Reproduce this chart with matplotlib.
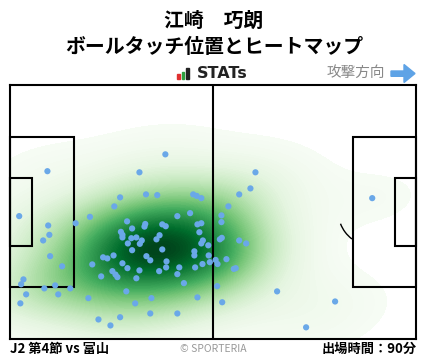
# Ball touch positions and heatmap for one player, drawn on a pitch.
import numpy as np
import matplotlib
matplotlib.use("Agg")
import matplotlib.pyplot as plt
import seaborn as sns
from matplotlib.patches import Rectangle, Arc, Polygon

plt.rcParams["font.family"] = ["Noto Sans CJK JP", "DejaVu Sans"]

# Texts
player_name = "江崎　巧朗"
chart_title = "ボールタッチ位置とヒートマップ"
direction_label = "攻撃方向"
match_label = "J2 第4節 vs 富山"
credit_label = "© SPORTERIA"
minutes_label = "出場時間：90分"

# Touch positions in metres (x along 105 m, y up from bottom touchline, 68 m)
touch_x = [40.1, 9.6, 33.4, 63.4, 62.1, 28.4, 35.1, 38.0, 47.3, 48.2,
           49.4, 59.2, 93.6, 26.9, 56.4, 46.5, 2.3, 20.6, 43.2, 54.6,
           30.2, 54.6, 16.9, 9.8, 34.9, 34.7, 39.3, 40.2, 48.4, 49.4,
           31.5, 48.9, 28.6, 29.0, 29.0, 10.1, 31.3, 32.6, 34.0, 38.6,
           37.8, 8.5, 49.8, 49.4, 51.2, 54.2, 54.7, 59.2, 61.0, 30.4,
           33.5, 31.5, 39.3, 47.6, 47.6, 51.3, 10.3, 26.7, 24.0, 25.1,
           35.2, 36.2, 40.4, 40.3, 53.1, 53.6, 55.9, 51.6, 49.7, 47.8,
           43.7, 29.0, 30.3, 33.4, 38.5, 21.2, 13.4, 57.8, 58.3, 26.4,
           27.2, 27.7, 23.5, 32.6, 43.2, 44.9, 3.4, 2.8, 8.8, 11.6,
           15.5, 53.5, 30.0, 69.0, 4.1, 12.4, 20.2, 36.5, 48.4, 2.6,
           32.3, 54.8, 84.0, 36.2, 43.2, 28.4, 22.8, 25.9, 76.5]
touch_y = [49.4, 44.9, 44.6, 44.6, 40.3, 37.9, 38.7, 38.5, 38.7, 38.3,
           37.7, 38.7, 37.7, 35.5, 35.5, 33.7, 32.9, 32.7, 32.9, 33.1,
           31.5, 31.3, 31.0, 30.4, 30.8, 30.1, 30.7, 30.2, 30.7, 31.0,
           29.6, 28.6, 28.7, 27.9, 27.2, 27.9, 27.0, 27.2, 26.4, 27.8,
           26.7, 26.4, 26.4, 25.6, 25.1, 26.7, 27.1, 26.4, 25.6, 25.6,
           25.5, 23.8, 24.0, 23.5, 22.4, 22.4, 22.2, 22.4, 21.9, 21.6,
           22.2, 21.1, 20.8, 19.2, 21.2, 20.1, 21.4, 20.6, 20.1, 19.2,
           19.2, 20.3, 19.0, 18.4, 18.2, 20.0, 19.5, 18.8, 19.0, 18.2,
           17.3, 16.6, 16.8, 16.3, 17.4, 15.0, 16.0, 14.7, 13.6, 14.4,
           13.6, 14.2, 12.8, 12.8, 12.0, 12.0, 11.0, 11.0, 11.2, 9.6,
           9.6, 9.9, 10.1, 6.9, 6.9, 5.9, 5.3, 3.7, 3.2]

# Pitch dimensions (metres)
pitch_length = 105.0
pitch_width = 68.0
box_depth = 16.5
box_width = 40.3
six_depth = 5.5
six_width = 18.3

line_color = "black"
dot_color = "#6aa8e8"

fig = plt.figure(figsize=(4.28, 3.59), dpi=100)

# Pitch axes
ax = fig.add_axes([10.3 / 428, (359 - 339.3) / 359, 406 / 428, 254.6 / 359])
ax.set_xlim(0, pitch_length)
ax.set_ylim(0, pitch_width)
ax.set_xticks([])
ax.set_yticks([])
for s in ax.spines.values():
    s.set_linewidth(1.5)
    s.set_zorder(6)

# Heatmap from the touches
sns.kdeplot(x=touch_x, y=touch_y, fill=True, cmap="Greens", levels=100,
            thresh=0.02, bw_adjust=1.45, ax=ax, zorder=2)
ax.set_xlim(0, pitch_length)
ax.set_ylim(0, pitch_width)
ax.set_xlabel("")
ax.set_ylabel("")

# Visible part of the right penalty arc
ax.add_patch(Arc((pitch_length - 11, pitch_width / 2), 18.3, 18.3, angle=0,
                 theta1=200, theta2=232, color=line_color, lw=1.0, zorder=3))

# Pitch lines
ax.plot([pitch_length / 2, pitch_length / 2], [0, pitch_width], color=line_color, lw=1.5, zorder=5)
for x0, w in [(0, box_depth), (pitch_length - box_depth, box_depth)]:
    ax.add_patch(Rectangle((x0, (pitch_width - box_width) / 2), w, box_width,
                           fill=False, ec=line_color, lw=1.5, zorder=5, clip_on=False))
for x0, w in [(0, six_depth), (pitch_length - six_depth, six_depth)]:
    ax.add_patch(Rectangle((x0, (pitch_width - six_width) / 2), w, six_width,
                           fill=False, ec=line_color, lw=1.5, zorder=5, clip_on=False))

# Touch points
ax.scatter(touch_x, touch_y, s=20, color=dot_color, edgecolors="none", zorder=7)

# Overlay in pixel units for header and footer
ov = fig.add_axes([0, 0, 1, 1], zorder=-1)
ov.set_xlim(0, 428)
ov.set_ylim(359, 0)
ov.axis("off")

ov.text(214, 20.5, player_name, ha="center", va="center", fontsize=14.3, fontweight="bold")
ov.text(214, 46.5, chart_title, ha="center", va="center", fontsize=14.3, fontweight="bold")

# STATs logo
ov.add_patch(Rectangle((177, 74), 3, 5.3, color="#e03030"))
ov.add_patch(Rectangle((181.7, 72), 2.8, 7.3, color="#30a040"))
ov.add_patch(Rectangle((186, 68.3), 3.3, 11, color="#222222"))
ov.text(196.5, 74, "STATs", ha="left", va="center", fontsize=11.5, fontweight="bold",
        family="DejaVu Sans", color="#222222")

# Attack direction
ov.text(385, 72.5, direction_label, ha="right", va="center", fontsize=10.5, color="#888888")
ov.add_patch(Polygon([(391, 71), (404, 71), (404, 64.5), (415, 73.5), (404, 82.5),
                      (404, 76.3), (391, 76.3)], closed=True, color="#5ea3e6"))

# Footer
ov.text(10, 349, match_label, ha="left", va="center", fontsize=9.5, fontweight="bold")
ov.text(213, 349, credit_label, ha="center", va="center", fontsize=7.5, color="#999999")
ov.text(417, 349, minutes_label, ha="right", va="center", fontsize=9.5, fontweight="bold")

fig.savefig("out.png", dpi=100)
